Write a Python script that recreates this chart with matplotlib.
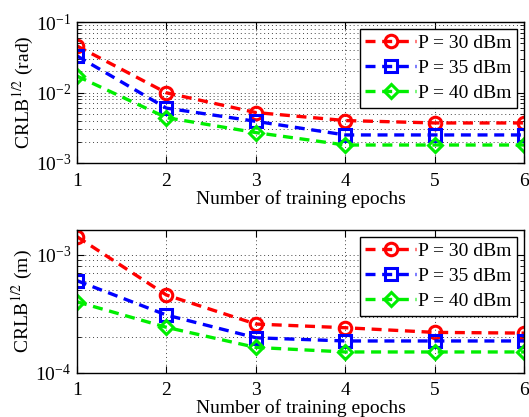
import matplotlib
matplotlib.use("Agg")
import matplotlib.pyplot as plt
import numpy as np

plt.rcParams['font.family'] = ['Liberation Serif', 'DejaVu Serif']
plt.rcParams['mathtext.fontset'] = 'stix'

epochs = [1, 2, 3, 4, 5, 6]
powers = ["P = 30 dBm", "P = 35 dBm", "P = 40 dBm"]

# angle estimation error (rad)
angle_30 = [0.0457, 0.0099, 0.0052, 0.0040, 0.0037, 0.0037]
angle_35 = [0.0330, 0.0060, 0.0039, 0.0025, 0.0025, 0.0025]
angle_40 = [0.0171, 0.0044, 0.0027, 0.0018, 0.0018, 0.0018]

# range estimation error (m)
range_30 = [1.43e-3, 4.57e-4, 2.59e-4, 2.41e-4, 2.20e-4, 2.17e-4]
range_35 = [6.05e-4, 3.09e-4, 1.98e-4, 1.86e-4, 1.86e-4, 1.86e-4]
range_40 = [4.00e-4, 2.43e-4, 1.64e-4, 1.50e-4, 1.50e-4, 1.50e-4]

colors = ["#ff0000", "#0000ff", "#00ee00"]
markers = ["o", "s", "D"]
msizes = [9, 8, 7.5]

fig = plt.figure(figsize=(5.29, 4.17), dpi=100)
ax1 = fig.add_axes([77/529, 1 - 163/417, 447/529, 141/417])
ax2 = fig.add_axes([77/529, 1 - 372.7/417, 447/529, 142.7/417])


def draw(ax, series, ylim, ylabel):
    for vals, c, m, ms, lab in zip(series, colors, markers, msizes, powers):
        ax.plot(epochs, vals, linestyle=(0, (3, 2)), color=c, lw=2.4,
                marker=m, ms=ms, mfc="none", mec=c, mew=2.2, label=lab)
    ax.set_yscale("log")
    ax.set_xlim(1, 6)
    ax.set_ylim(*ylim)
    ax.set_xticks(epochs)
    ax.grid(True, which="major", color="#444444", linestyle=(0, (1, 3)), lw=0.7)
    ax.grid(True, which="minor", axis="y", color="#444444", linestyle=(0, (1, 3)), lw=0.7)
    ax.tick_params(which="both", direction="in", top=True, right=True,
                   labelsize=14)
    ax.tick_params(axis="y", which="both", pad=4)
    ax.tick_params(axis="x", which="both", pad=7)
    ax.tick_params(which="major", length=5)
    ax.tick_params(which="minor", length=3)
    for s in ax.spines.values():
        s.set_linewidth(1.0)
    ax.set_xlabel("Number of training epochs", fontsize=14, labelpad=0)
    ax.set_ylabel(ylabel, fontsize=14, labelpad=0)
    leg = ax.legend(loc="upper right", fontsize=14, frameon=True, fancybox=False,
                    edgecolor="black", framealpha=1, handlelength=2.6,
                    handletextpad=0.1, borderpad=0.3, labelspacing=0.38,
                    borderaxespad=0.35)
    leg.get_frame().set_linewidth(1.0)


draw(ax1, [angle_30, angle_35, angle_40], (1e-3, 1e-1), "CRLB$^{1/2}$ (rad)")
draw(ax2, [range_30, range_35, range_40], (1e-4, 1.63e-3), "CRLB$^{1/2}$ (m)")

fig.savefig("out.png", dpi=100)
